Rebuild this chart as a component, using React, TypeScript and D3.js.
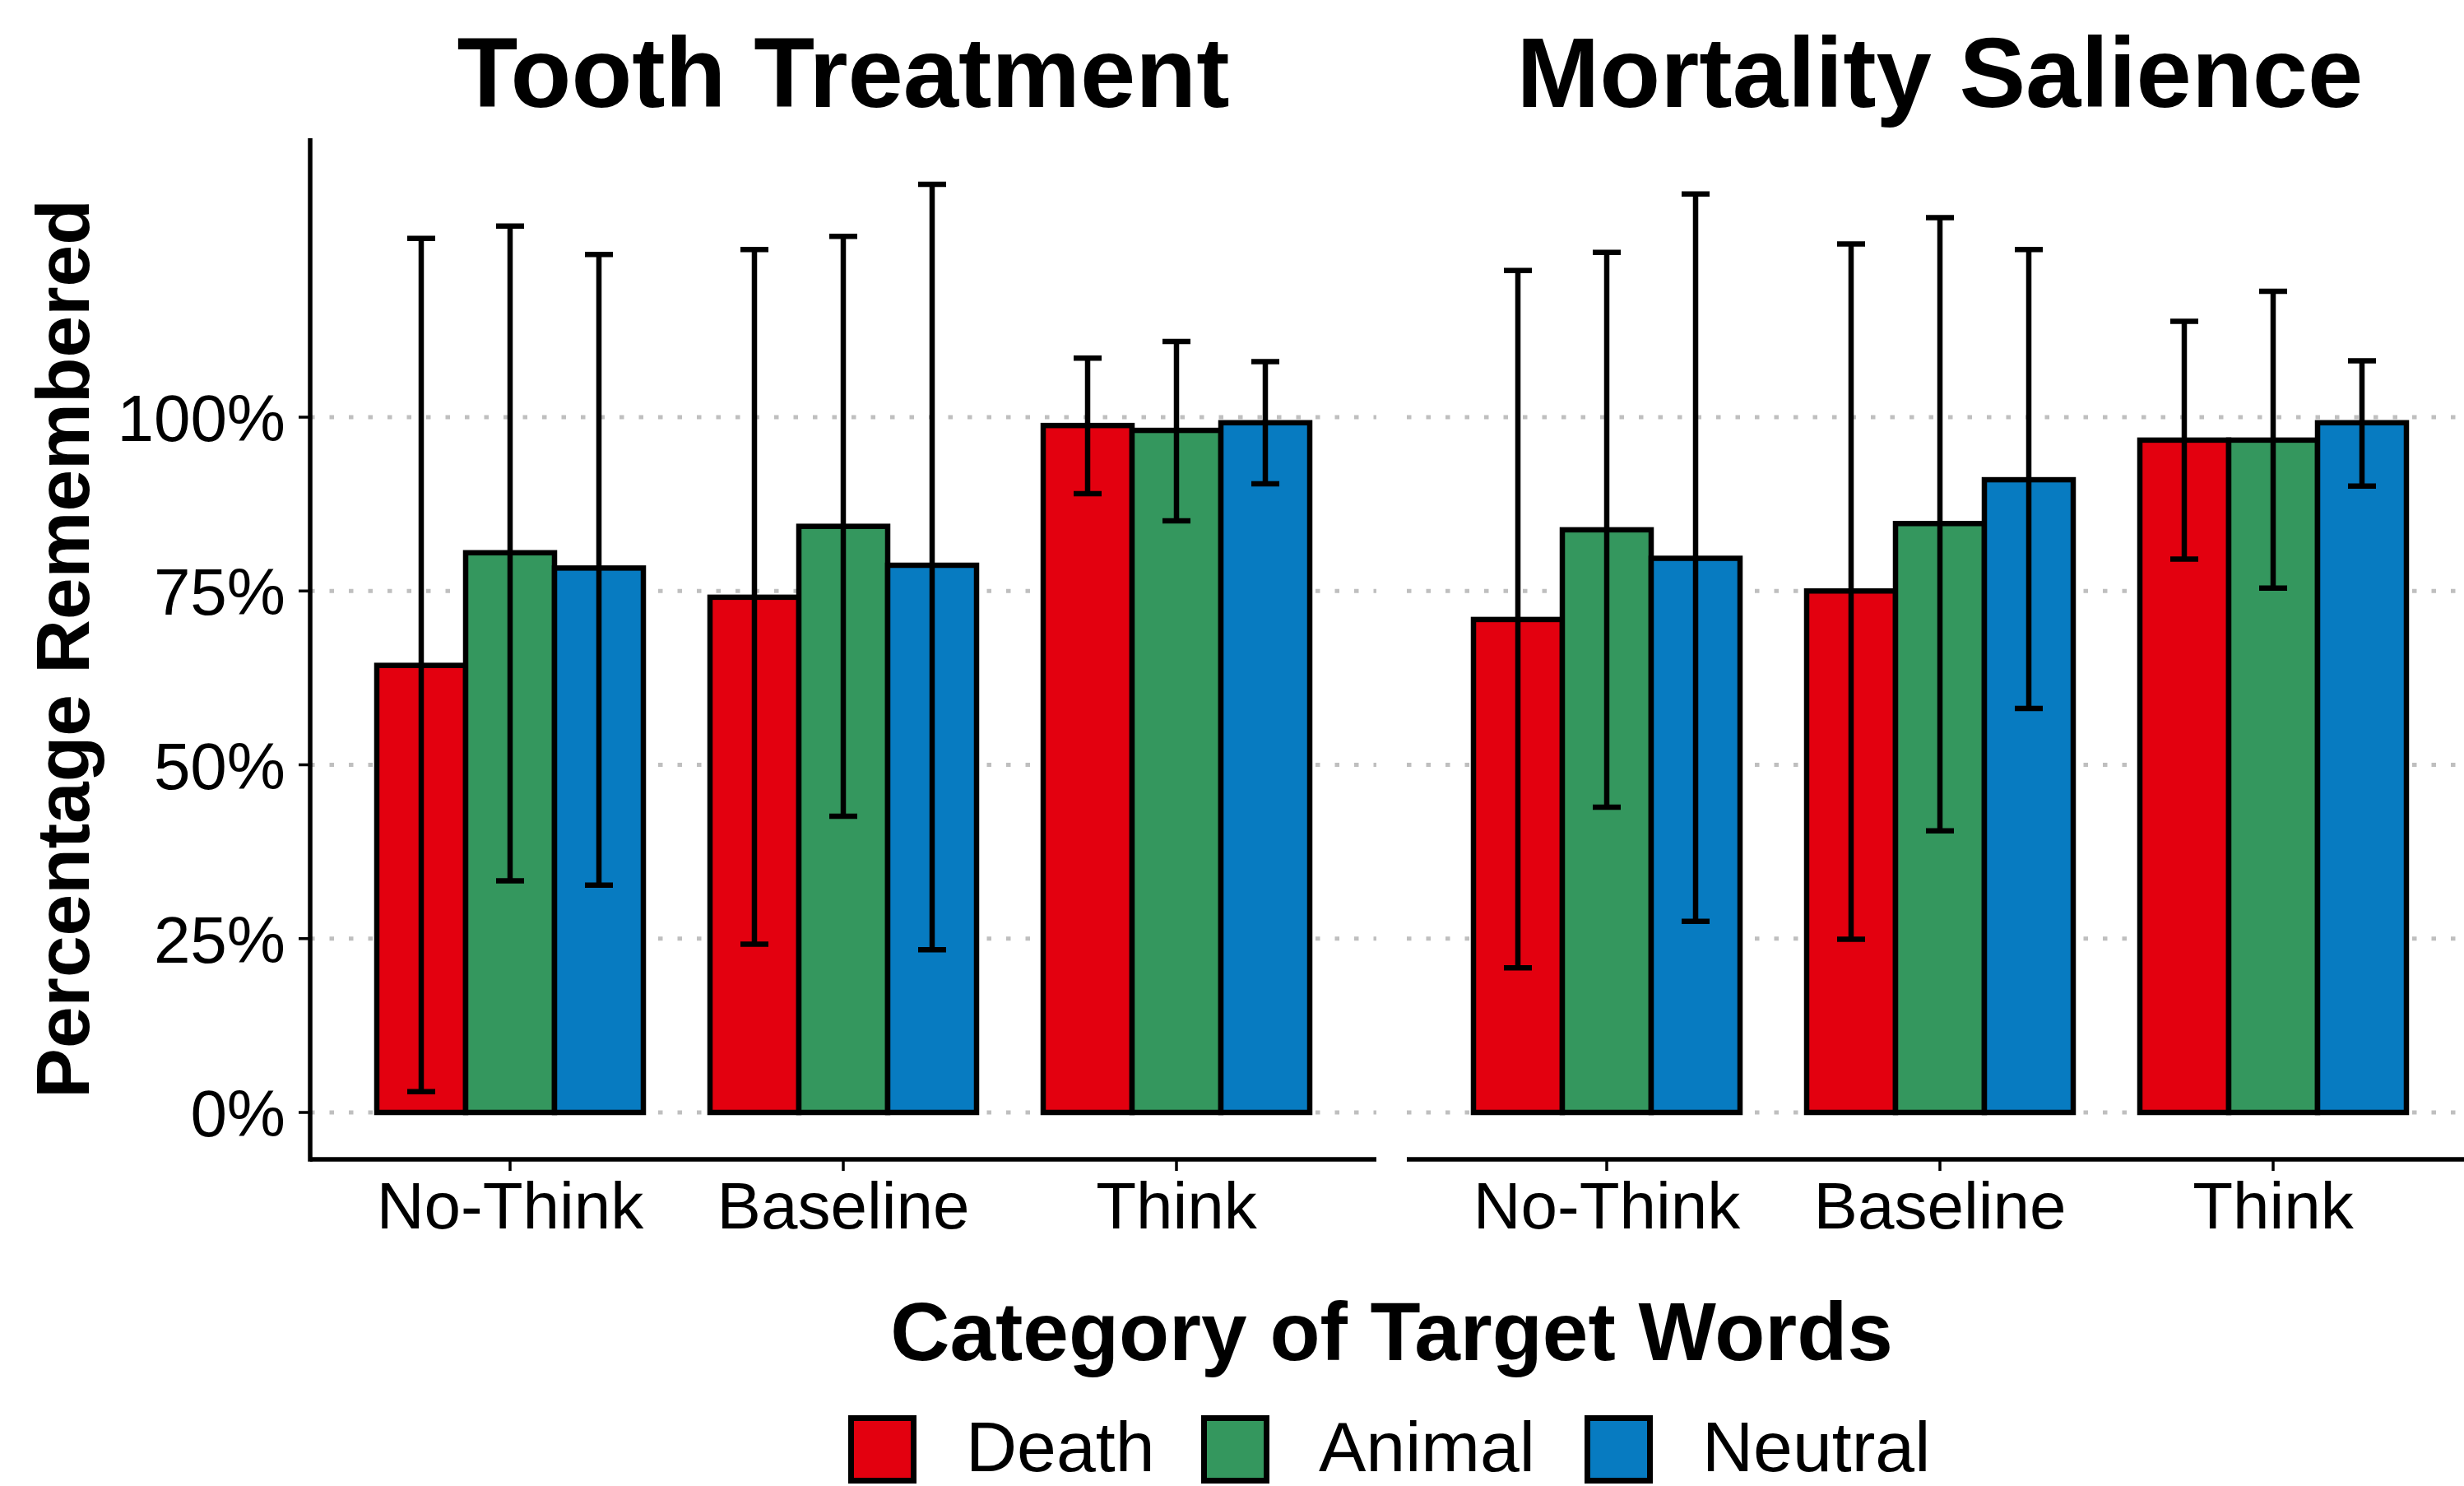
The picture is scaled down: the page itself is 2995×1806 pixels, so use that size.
import React, { useEffect } from "react";
import * as d3 from "d3";

const categories = ["No-Think", "Baseline", "Think"];
const seriesNames = ["Death", "Animal", "Neutral"];
const panelTitles = ["Tooth Treatment", "Mortality Salience"];
const yTicks = [0, 0.25, 0.5, 0.75, 1];
const yTickLabels = ["0%", "25%", "50%", "75%", "100%"];

// Tooth Treatment
const toothDeathMean = [0.643, 0.741, 0.988];
const toothDeathLo = [0.03, 0.242, 0.89];
const toothDeathHi = [1.257, 1.241, 1.085];
const toothAnimalMean = [0.805, 0.843, 0.981];
const toothAnimalLo = [0.333, 0.426, 0.851];
const toothAnimalHi = [1.275, 1.26, 1.109];
const toothNeutralMean = [0.783, 0.787, 0.992];
const toothNeutralLo = [0.327, 0.234, 0.904];
const toothNeutralHi = [1.234, 1.335, 1.08];

// Mortality Salience
const mortDeathMean = [0.709, 0.75, 0.967];
const mortDeathLo = [0.208, 0.249, 0.796];
const mortDeathHi = [1.211, 1.249, 1.138];
const mortAnimalMean = [0.838, 0.847, 0.967];
const mortAnimalLo = [0.439, 0.405, 0.754];
const mortAnimalHi = [1.237, 1.287, 1.181];
const mortNeutralMean = [0.797, 0.91, 0.992];
const mortNeutralLo = [0.275, 0.581, 0.901];
const mortNeutralHi = [1.321, 1.241, 1.081];

const colors = ["#E3000F", "#34975E", "#077BC1"];

const panelsData = [
  [
    { mean: toothDeathMean, lo: toothDeathLo, hi: toothDeathHi },
    { mean: toothAnimalMean, lo: toothAnimalLo, hi: toothAnimalHi },
    { mean: toothNeutralMean, lo: toothNeutralLo, hi: toothNeutralHi },
  ],
  [
    { mean: mortDeathMean, lo: mortDeathLo, hi: mortDeathHi },
    { mean: mortAnimalMean, lo: mortAnimalLo, hi: mortAnimalHi },
    { mean: mortNeutralMean, lo: mortNeutralLo, hi: mortNeutralHi },
  ],
];

const W = 2995;
const H = 1806;
const FONT = "'Liberation Sans', Arial, Helvetica, sans-serif";
const panelLefts = [377, 1710];
const panelW = 1296;
const panelTop = 168;
const panelBottom = 1409;

export default function App() {
  useEffect(() => {
    document.body.style.margin = "0";
    document.body.style.overflow = "hidden";
  }, []);

  const y = d3.scaleLinear().domain([0, 1]).range([1352, 507]);
  const capW = 34;

  const legendKeyX = [1031, 1460, 1926];
  const legendKeyY = 1720;
  const legendKey = 83;

  return (
    <svg
      width={W}
      height={H}
      style={{ position: "absolute", left: 0, top: 0, background: "#fff" }}
      fontFamily={FONT}
    >
      <rect x={0} y={0} width={W} height={H} fill="#fff" />
      {panelLefts.map((L, pi) => {
        const x0 = d3
          .scaleBand<string>()
          .domain(categories)
          .range([L, L + panelW])
          .paddingInner(0.2)
          .paddingOuter(0.2);
        const x1 = d3
          .scaleBand<string>()
          .domain(seriesNames)
          .range([0, x0.bandwidth()]);
        const data = panelsData[pi];
        return (
          <g key={pi}>
            {yTicks.map((t, i) => (
              <line
                key={i}
                x1={L}
                x2={L + panelW}
                y1={y(t)}
                y2={y(t)}
                stroke="#bfbfbf"
                strokeWidth={5}
                strokeDasharray="5.5 18"
              />
            ))}
            {categories.map((c, ci) =>
              seriesNames.map((s, si) => {
                const v = data[si].mean[ci];
                const bx = (x0(c) as number) + (x1(s) as number);
                return (
                  <rect
                    key={c + s}
                    x={bx}
                    y={y(v)}
                    width={x1.bandwidth()}
                    height={y(0) - y(v)}
                    fill={colors[si]}
                    stroke="#000"
                    strokeWidth={6.5}
                  />
                );
              })
            )}
            {categories.map((c, ci) =>
              seriesNames.map((s, si) => {
                const cx =
                  (x0(c) as number) + (x1(s) as number) + x1.bandwidth() / 2;
                const lo = y(data[si].lo[ci]);
                const hi = y(data[si].hi[ci]);
                return (
                  <g key={"e" + c + s} stroke="#000" strokeWidth={6.5}>
                    <line x1={cx} x2={cx} y1={lo} y2={hi} />
                    <line x1={cx - capW / 2} x2={cx + capW / 2} y1={lo} y2={lo} />
                    <line x1={cx - capW / 2} x2={cx + capW / 2} y1={hi} y2={hi} />
                  </g>
                );
              })
            )}
            <line
              x1={L}
              x2={L + panelW}
              y1={panelBottom}
              y2={panelBottom}
              stroke="#000"
              strokeWidth={5.5}
            />
            {categories.map((c) => {
              const cx = (x0(c) as number) + x0.bandwidth() / 2;
              return (
                <g key={"t" + c}>
                  <line
                    x1={cx}
                    x2={cx}
                    y1={panelBottom}
                    y2={panelBottom + 14}
                    stroke="#000"
                    strokeWidth={3.5}
                  />
                  <text
                    x={cx}
                    y={1493}
                    textAnchor="middle"
                    fontSize={80}
                    fill="#000"
                  >
                    {c}
                  </text>
                </g>
              );
            })}
            <text
              x={L + panelW / 2}
              y={130}
              textAnchor="middle"
              fontSize={121}
              fontWeight="bold"
              fill="#000"
            >
              {panelTitles[pi]}
            </text>
          </g>
        );
      })}
      <line
        x1={panelLefts[0]}
        x2={panelLefts[0]}
        y1={panelTop}
        y2={panelBottom + 2.75}
        stroke="#000"
        strokeWidth={5.5}
      />
      {yTicks.map((t, i) => (
        <g key={"yt" + i}>
          <line
            x1={panelLefts[0] - 14}
            x2={panelLefts[0]}
            y1={y(t)}
            y2={y(t)}
            stroke="#000"
            strokeWidth={3.5}
          />
          <text
            x={347}
            y={y(t) + 29}
            textAnchor="end"
            fontSize={80}
            fill="#000"
          >
            {yTickLabels[i]}
          </text>
        </g>
      ))}
      <text
        transform={`translate(108, ${(panelTop + panelBottom) / 2}) rotate(-90)`}
        textAnchor="middle"
        fontSize={91}
        fontWeight="bold"
        fill="#000"
      >
        Percentage Remembered
      </text>
      <text
        x={(panelLefts[0] + panelLefts[1] + panelW) / 2}
        y={1653}
        textAnchor="middle"
        fontSize={100}
        fontWeight="bold"
        fill="#000"
      >
        Category of Target Words
      </text>
      {seriesNames.map((s, si) => (
        <g key={"lg" + s}>
          <rect
            x={legendKeyX[si] + 3.5}
            y={legendKeyY + 3.5}
            width={legendKey - 7}
            height={legendKey - 7}
            fill={colors[si]}
            stroke="#000"
            strokeWidth={7}
          />
          <text
            x={legendKeyX[si] + legendKey + 60}
            y={1788}
            fontSize={86}
            fill="#000"
          >
            {s}
          </text>
        </g>
      ))}
    </svg>
  );
}
